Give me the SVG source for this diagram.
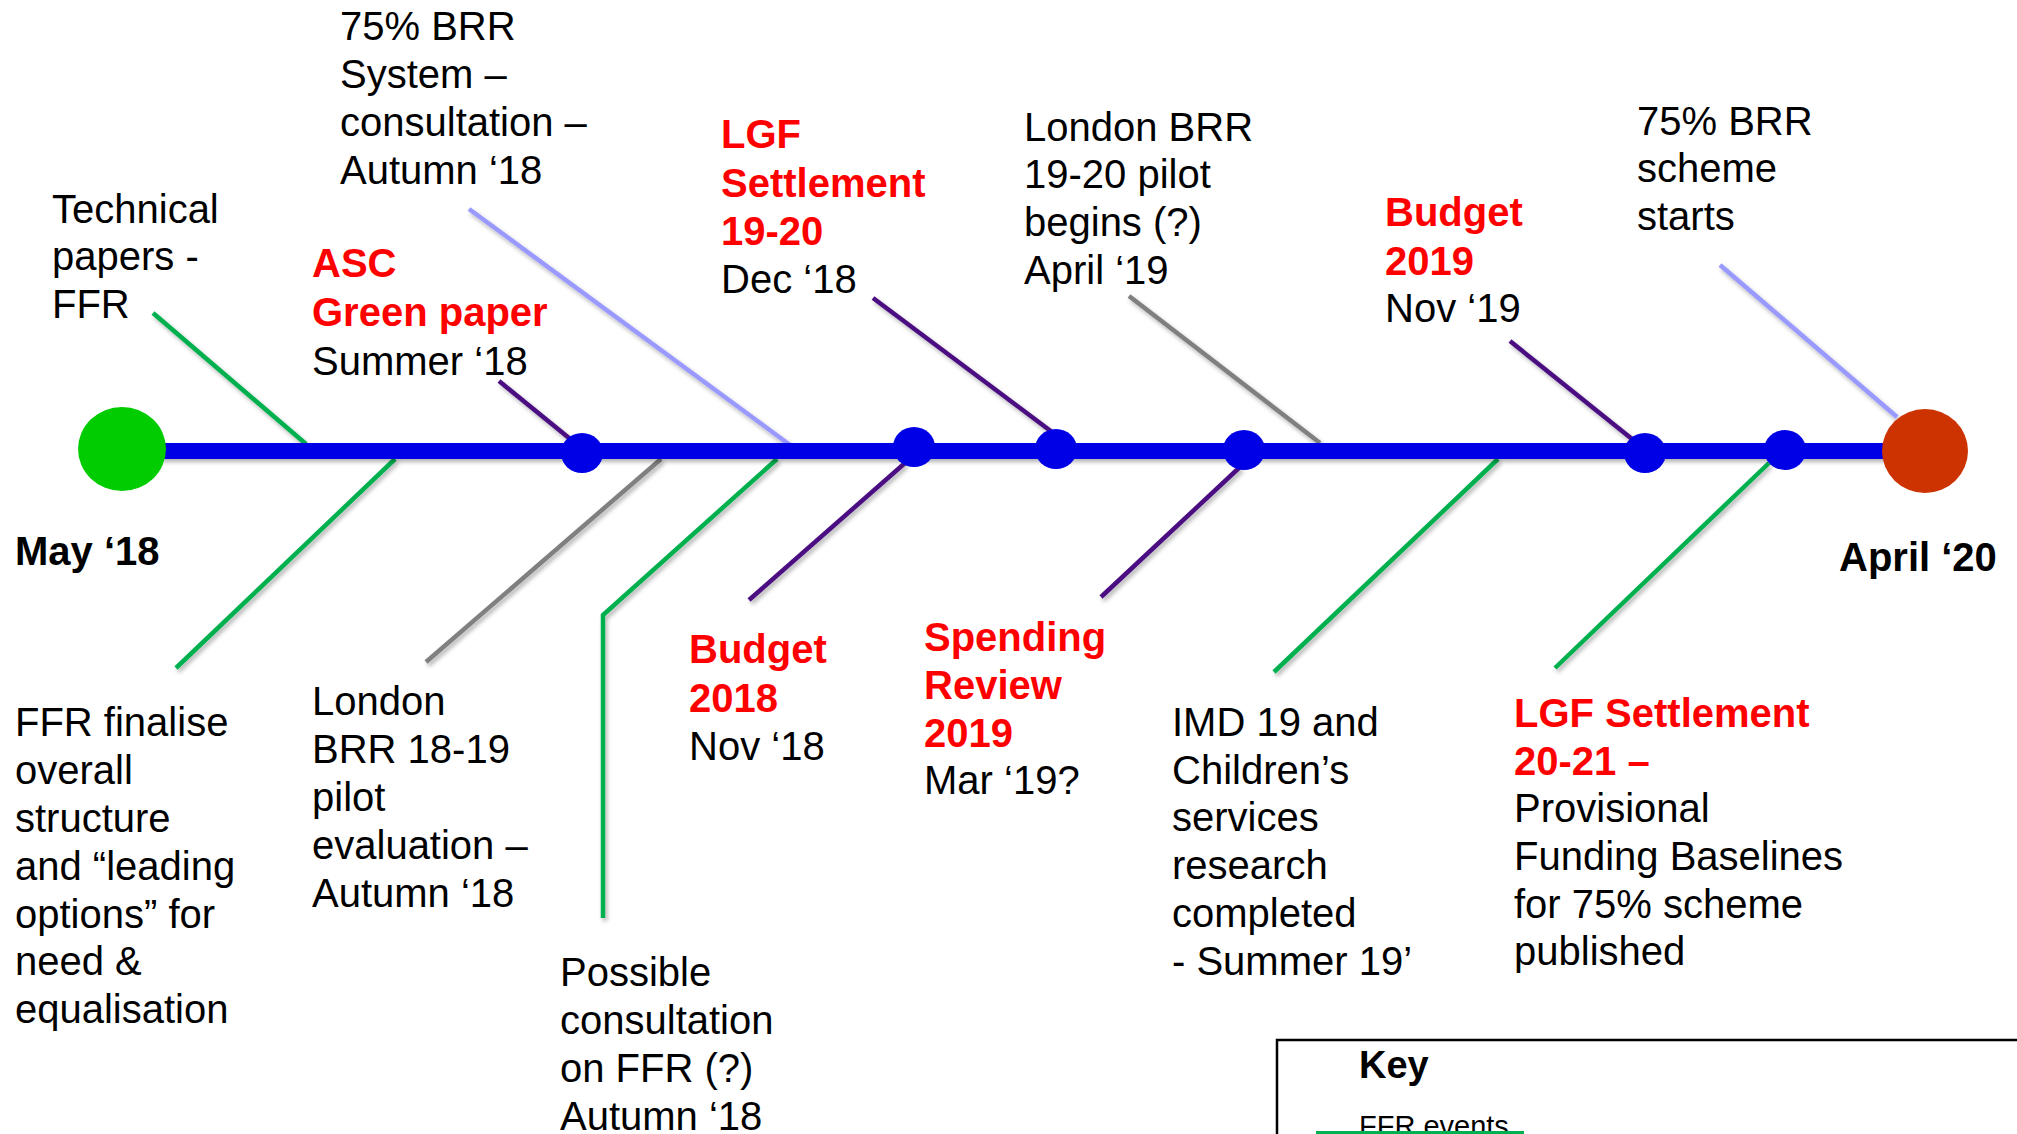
<svg xmlns="http://www.w3.org/2000/svg" width="2017" height="1134" viewBox="0 0 2017 1134">
<defs>
<filter id="sh" filterUnits="userSpaceOnUse" x="0" y="0" width="2017" height="1134">
<feDropShadow dx="2" dy="3" stdDeviation="2" flood-color="#000" flood-opacity="0.3"/>
</filter>
</defs>
<style>
text{font-family:"Liberation Sans",Arial,sans-serif;font-size:40px;fill:#000}
.b{font-weight:bold}
.r{fill:#ff0000;font-weight:bold}
.br{fill:none;stroke-width:4.5;filter:url(#sh)}
.g{stroke:#00b050}
.p{stroke:#4b1082}
.gr{stroke:#808080}
.lb{stroke:#9999ff}
.dot{fill:#0000e6}
</style>
<rect width="2017" height="1134" fill="#fff"/>
<g id="connectors">
<path class="br g" d="M153,313 L306,444"/>
<path class="br p" d="M499,381 L569,438"/>
<path class="br lb" d="M469,209 L790,445"/>
<path class="br p" d="M873,298 L1052,432"/>
<path class="br gr" d="M1129,296 L1320,443"/>
<path class="br p" d="M1510,341 L1632,439"/>
<path class="br lb" d="M1720,265 L1897,417"/>
<path class="br g" d="M395,459 L176,668"/>
<path class="br gr" d="M661,459 L426,662"/>
<path class="br g" d="M777,459 L603,615 L603,918"/>
<path class="br p" d="M905,463 L749,600"/>
<path class="br p" d="M1240,467 L1101,597"/>
<path class="br g" d="M1498,459 L1274,672"/>
<path class="br g" d="M1769,463 L1555,668"/>
</g>
<g id="timeline">
<line x1="160" y1="451" x2="1890" y2="451" stroke="#0000e6" stroke-width="16" filter="url(#sh)"/>
<ellipse cx="582" cy="453" rx="21" ry="20" class="dot"/>
<ellipse cx="914" cy="447" rx="21" ry="20" class="dot"/>
<ellipse cx="1056" cy="449" rx="21" ry="20" class="dot"/>
<ellipse cx="1244" cy="450" rx="21" ry="20" class="dot"/>
<ellipse cx="1645" cy="453" rx="21" ry="20" class="dot"/>
<ellipse cx="1785" cy="450" rx="21" ry="20" class="dot"/>
</g>
<g id="start">
<ellipse cx="122" cy="449" rx="44" ry="42" fill="#00cc00"/>
<text class="b" x="15" y="565">May ‘18</text>
</g>
<g id="end">
<ellipse cx="1925" cy="451" rx="43" ry="42" fill="#cc3300"/>
<text class="b" x="1839" y="571">April ‘20</text>
</g>
<g id="technical-papers">
<text x="52"><tspan x="52" y="223">Technical</tspan><tspan x="52" y="270">papers -</tspan><tspan x="52" y="318">FFR</tspan></text>
</g>
<g id="brr-consultation">
<text x="340"><tspan x="340" y="40">75% BRR</tspan><tspan x="340" y="88">System –</tspan><tspan x="340" y="136">consultation –</tspan><tspan x="340" y="184">Autumn ‘18</tspan></text>
</g>
<g id="asc-green-paper">
<text x="312"><tspan class="r" x="312" y="277">ASC</tspan><tspan class="r" x="312" y="326">Green paper</tspan><tspan x="312" y="375">Summer ‘18</tspan></text>
</g>
<g id="lgf-19-20">
<text x="721"><tspan class="r" x="721" y="148">LGF</tspan><tspan class="r" x="721" y="197">Settlement</tspan><tspan class="r" x="721" y="245">19-20</tspan><tspan x="721" y="293">Dec ‘18</tspan></text>
</g>
<g id="london-brr-19-20">
<text x="1024"><tspan x="1024" y="141">London BRR</tspan><tspan x="1024" y="188">19-20 pilot</tspan><tspan x="1024" y="236">begins (?)</tspan><tspan x="1024" y="284">April ‘19</tspan></text>
</g>
<g id="budget-2019">
<text x="1385"><tspan class="r" x="1385" y="226">Budget</tspan><tspan class="r" x="1385" y="275">2019</tspan><tspan x="1385" y="322">Nov ‘19</tspan></text>
</g>
<g id="brr-scheme-starts">
<text x="1637"><tspan x="1637" y="135">75% BRR</tspan><tspan x="1637" y="182">scheme</tspan><tspan x="1637" y="230">starts</tspan></text>
</g>
<g id="ffr-finalise">
<text x="15"><tspan x="15" y="736">FFR finalise</tspan><tspan x="15" y="784">overall</tspan><tspan x="15" y="832">structure</tspan><tspan x="15" y="880">and “leading</tspan><tspan x="15" y="928">options” for</tspan><tspan x="15" y="975">need &amp;</tspan><tspan x="15" y="1023">equalisation</tspan></text>
</g>
<g id="london-brr-18-19">
<text x="312"><tspan x="312" y="715">London</tspan><tspan x="312" y="763">BRR 18-19</tspan><tspan x="312" y="811">pilot</tspan><tspan x="312" y="859">evaluation –</tspan><tspan x="312" y="907">Autumn ‘18</tspan></text>
</g>
<g id="possible-consultation">
<text x="560"><tspan x="560" y="986">Possible</tspan><tspan x="560" y="1034">consultation</tspan><tspan x="560" y="1082">on FFR (?)</tspan><tspan x="560" y="1130">Autumn ‘18</tspan></text>
</g>
<g id="budget-2018">
<text x="689"><tspan class="r" x="689" y="663">Budget</tspan><tspan class="r" x="689" y="712">2018</tspan><tspan x="689" y="760">Nov ‘18</tspan></text>
</g>
<g id="spending-review">
<text x="924"><tspan class="r" x="924" y="651">Spending</tspan><tspan class="r" x="924" y="699">Review</tspan><tspan class="r" x="924" y="747">2019</tspan><tspan x="924" y="794">Mar ‘19?</tspan></text>
</g>
<g id="imd-19">
<text x="1172"><tspan x="1172" y="736">IMD 19 and</tspan><tspan x="1172" y="784">Children’s</tspan><tspan x="1172" y="831">services</tspan><tspan x="1172" y="879">research</tspan><tspan x="1172" y="927">completed</tspan><tspan x="1172" y="975">- Summer 19’</tspan></text>
</g>
<g id="lgf-20-21">
<text x="1514"><tspan class="r" x="1514" y="727">LGF Settlement</tspan><tspan class="r" x="1514" y="775">20-21 –</tspan><tspan x="1514" y="822">Provisional</tspan><tspan x="1514" y="870">Funding Baselines</tspan><tspan x="1514" y="918">for 75% scheme</tspan><tspan x="1514" y="965">published</tspan></text>
</g>
<g id="key">
<rect x="1277" y="1040" width="800" height="200" fill="none" stroke="#000" stroke-width="2.5"/>
<text class="b" x="1359" y="1078" style="font-size:38px">Key</text>
<text x="1359" y="1136" style="font-size:29px">FFR events</text>
<line x1="1316" y1="1133" x2="1524" y2="1133" stroke="#00b050" stroke-width="4"/>
</g>
</svg>
